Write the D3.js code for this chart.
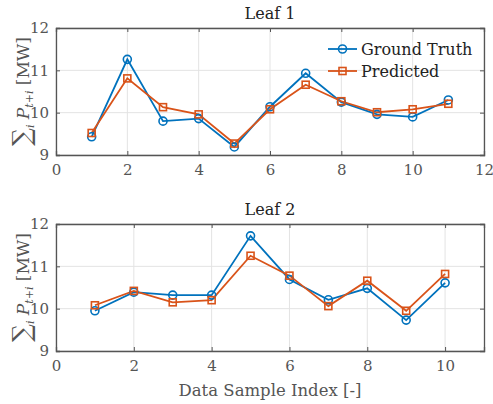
<!DOCTYPE html>
<html>
<head>
<meta charset="utf-8">
<script src="https://cdn.jsdelivr.net/npm/d3@7"></script>
<style>
  body { margin: 0; background: #fff; }
  svg text { font-family: "DejaVu Serif", serif; }
</style>
</head>
<body>
<div id="box"></div>
<script>
// leaf 1 data
var idx1 = [1, 2, 3, 4, 5, 6, 7, 8, 9, 10, 11]
var truth1 = [9.43, 11.26, 9.80, 9.86, 9.19, 10.14, 10.93, 10.25, 9.96, 9.90, 10.30]
var pred1 = [9.52, 10.81, 10.13, 9.96, 9.27, 10.08, 10.66, 10.27, 10.01, 10.08, 10.21]

// leaf 2 data
var idx2 = [1, 2, 3, 4, 5, 6, 7, 8, 9, 10]
var truth2 = [9.95, 10.39, 10.32, 10.32, 11.72, 10.69, 10.21, 10.48, 9.73, 10.61]
var pred2 = [10.08, 10.42, 10.15, 10.20, 11.25, 10.78, 10.06, 10.66, 9.95, 10.82]

var xTicks1 = [0, 2, 4, 6, 8, 10, 12]
var xTicks2 = [0, 2, 4, 6, 8, 10]
var yTicks = [9, 10, 11, 12]

var blue = '#0072BD', orange = '#D95319', axisCol = '#555'
var serif = '"DejaVu Serif", serif'

var svg = d3.select('#box').append('svg')
  .attr('width', 493)
  .attr('height', 404)

function panel(top, title, idx, truth, pred, xMax, xTicks, legend, xlabel) {
  var left = 56, right = 484, h = 127
  var x = d3.scaleLinear().domain([0, xMax]).range([left, right])
  var y = d3.scaleLinear().domain([9, 12]).range([top + h, top])
  var g = svg.append('g')

  // grid
  g.selectAll('.gx').data(xTicks).enter().append('line')
    .attr('x1', d => x(d)).attr('x2', d => x(d))
    .attr('y1', top).attr('y2', top + h)
    .attr('stroke', '#e3e3e3').attr('stroke-width', 1)
  g.selectAll('.gy').data(yTicks).enter().append('line')
    .attr('x1', left).attr('x2', right)
    .attr('y1', d => y(d)).attr('y2', d => y(d))
    .attr('stroke', '#e3e3e3').attr('stroke-width', 1)

  // axes (ticks inward, box on)
  g.append('g').attr('transform', `translate(0,${top + h})`)
    .call(d3.axisBottom(x).tickValues(xTicks).tickSize(-4).tickPadding(9).tickFormat(d3.format('d')))
  g.append('g').attr('transform', `translate(0,${top})`)
    .call(d3.axisTop(x).tickValues(xTicks).tickSize(-4).tickFormat(''))
  g.append('g').attr('transform', `translate(${left},0)`)
    .call(d3.axisLeft(y).tickValues(yTicks).tickSize(-4).tickPadding(7).tickFormat(d3.format('d')))
  g.append('g').attr('transform', `translate(${right},0)`)
    .call(d3.axisRight(y).tickValues(yTicks).tickSize(-4).tickFormat(''))
  g.selectAll('g').attr('font-family', serif)
  g.selectAll('.domain').attr('stroke', axisCol).attr('stroke-width', 1.3)
  g.selectAll('.tick line').attr('stroke', axisCol)
  g.selectAll('.tick text').style('font-size', '15px').attr('fill', axisCol)

  // title
  g.append('text').attr('x', 270).attr('y', top - 9)
    .attr('text-anchor', 'middle').style('font-size', '16px').attr('fill', '#222')
    .text(title)

  // y label
  var yl = g.append('text')
    .attr('transform', `translate(29,${top + h / 2}) rotate(-90)`)
    .attr('text-anchor', 'middle').style('font-size', '17px').attr('fill', axisCol)
  yl.append('tspan').text('\u2211').style('font-size', '25px').attr('dy', 1)
  yl.append('tspan').text('i').style('font-style', 'italic').style('font-size', '11px').attr('dy', 4)
  yl.append('tspan').text(' P').style('font-style', 'italic').attr('dy', -5)
  yl.append('tspan').text('t+i').style('font-style', 'italic').style('font-size', '11px').attr('dy', 4)
  yl.append('tspan').text(' [MW]').attr('dy', -4)

  var line = d3.line().x((d, i) => x(idx[i])).y(d => y(d))

  g.append('path').datum(truth).attr('d', line)
    .attr('fill', 'none').attr('stroke', blue).attr('stroke-width', 1.8)
  g.append('path').datum(pred).attr('d', line)
    .attr('fill', 'none').attr('stroke', orange).attr('stroke-width', 1.8)

  g.selectAll('.c').data(truth).enter().append('circle')
    .attr('cx', (d, i) => x(idx[i])).attr('cy', d => y(d)).attr('r', 4)
    .attr('fill', 'none').attr('stroke', blue).attr('stroke-width', 1.6)
  g.selectAll('.s').data(pred).enter().append('rect')
    .attr('x', (d, i) => x(idx[i]) - 3.5).attr('y', d => y(d) - 3.5)
    .attr('width', 7).attr('height', 7)
    .attr('fill', 'none').attr('stroke', orange).attr('stroke-width', 1.6)

  if (legend) {
    var items = [['Ground Truth', blue, 'c'], ['Predicted', orange, 's']]
    items.forEach((it, i) => {
      var ly = top + 21 + i * 22
      g.append('line').attr('x1', 328).attr('x2', 357).attr('y1', ly).attr('y2', ly)
        .attr('stroke', it[1]).attr('stroke-width', 1.8)
      if (it[2] == 'c')
        g.append('circle').attr('cx', 342.5).attr('cy', ly).attr('r', 4)
          .attr('fill', 'none').attr('stroke', it[1]).attr('stroke-width', 1.6)
      else
        g.append('rect').attr('x', 339).attr('y', ly - 3.5).attr('width', 7).attr('height', 7)
          .attr('fill', 'none').attr('stroke', it[1]).attr('stroke-width', 1.6)
      g.append('text').attr('x', 361).attr('y', ly + 5.5).style('font-size', '16px')
        .attr('fill', '#222').text(it[0])
    })
  }

  if (xlabel)
    g.append('text').attr('x', 270).attr('y', top + h + 45)
      .attr('text-anchor', 'middle').style('font-size', '16.5px').attr('fill', axisCol)
      .text(xlabel)
}

panel(28, 'Leaf 1', idx1, truth1, pred1, 12, xTicks1, true, null)
panel(224, 'Leaf 2', idx2, truth2, pred2, 11, xTicks2, false, 'Data Sample Index [-]')
</script>
</body>
</html>
